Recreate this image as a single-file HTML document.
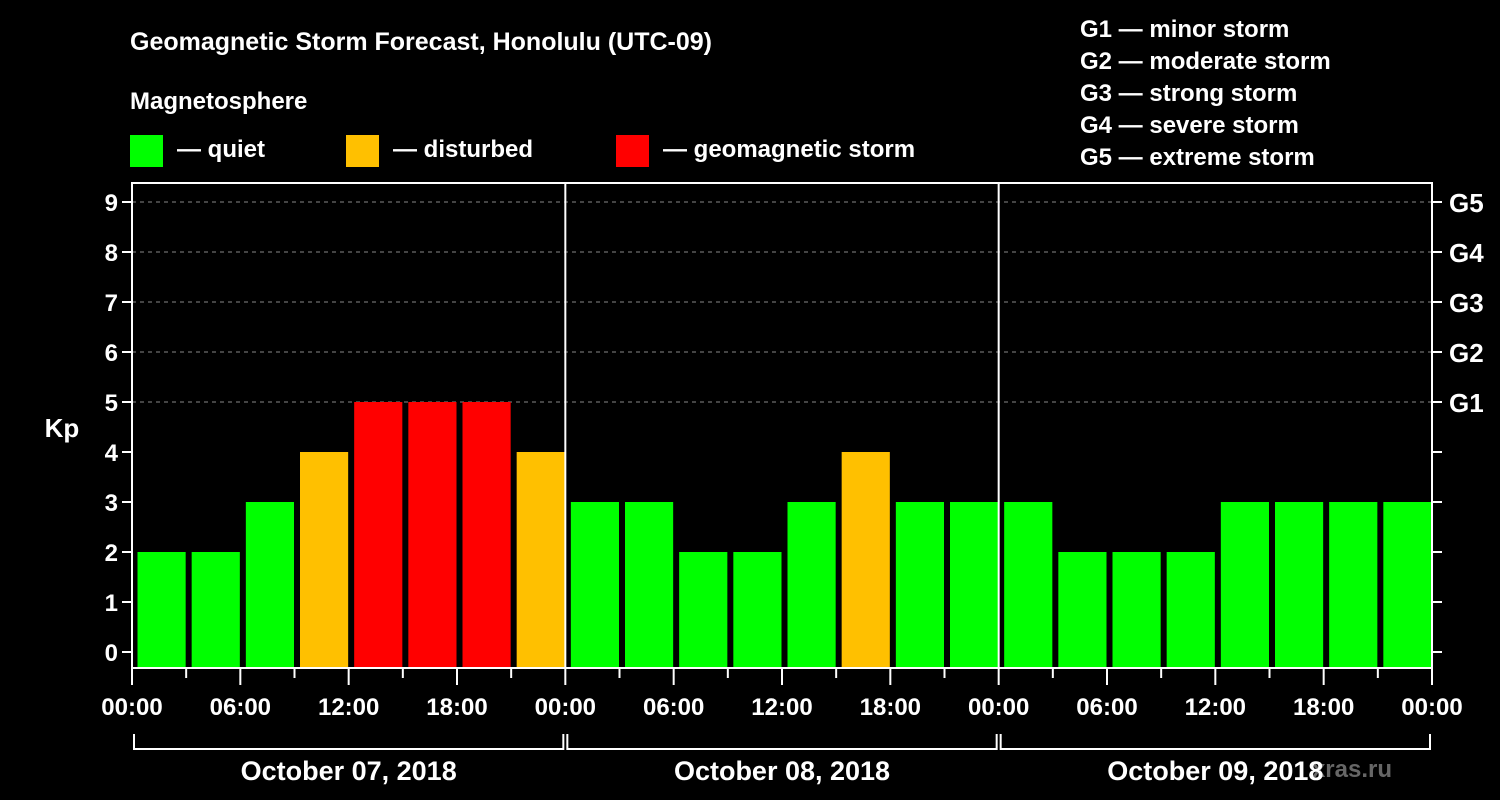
<!DOCTYPE html>
<html><head><meta charset="utf-8"><style>
html,body{margin:0;padding:0;background:#000;}
svg{display:block;font-family:"Liberation Sans",Arial,sans-serif;font-weight:bold;}
</style></head><body>
<svg id="chart" width="1500" height="800" viewBox="0 0 1500 800">
<rect x="0" y="0" width="1500" height="800" fill="#000"/>
<text x="130" y="50" fill="#fff" font-size="25">Geomagnetic Storm Forecast, Honolulu (UTC-09)</text>
<text x="130" y="109" fill="#fff" font-size="24">Magnetosphere</text>
<g><rect x="130" y="135" width="33" height="32" fill="#00ff00"/><text x="177" y="157" fill="#fff" font-size="24">— quiet</text></g>
<g><rect x="346" y="135" width="33" height="32" fill="#ffc000"/><text x="393" y="157" fill="#fff" font-size="24">— disturbed</text></g>
<g><rect x="616" y="135" width="33" height="32" fill="#ff0000"/><text x="663" y="157" fill="#fff" font-size="24">— geomagnetic storm</text></g>
<g fill="#fff" font-size="24">
<text x="1080" y="37">G1 — minor storm</text>
<text x="1080" y="69">G2 — moderate storm</text>
<text x="1080" y="101">G3 — strong storm</text>
<text x="1080" y="133">G4 — severe storm</text>
<text x="1080" y="165">G5 — extreme storm</text>
</g>
<text x="62" y="437" fill="#fff" font-size="26" text-anchor="middle">Kp</text>
<text x="1392" y="777" fill="#666" font-size="24" text-anchor="end">xras.ru</text>
<g id="plot"></g>
</svg>
<script>
const kpValues=[2,2,3,4,5,5,5,4, 3,3,2,2,3,4,3,3, 3,2,2,2,3,3,3,3];
const dayLabels=["October 07, 2018","October 08, 2018","October 09, 2018"];
const hourLabels=["00:00","06:00","12:00","18:00"];
const kpTicks=[0,1,2,3,4,5,6,7,8,9];
const gLabels=["G1","G2","G3","G4","G5"];

const NS="http://www.w3.org/2000/svg";
const g=document.getElementById('plot');
const L=132,R=1432,T=183,B=668;
const dayW=(R-L)/dayLabels.length;
const xH=h=>L+h*dayW/24;
const yK=k=>652-k*50;
function mk(tag,attrs,parent){const e=document.createElementNS(NS,tag);for(const k in attrs)e.setAttribute(k,attrs[k]);(parent||g).appendChild(e);return e;}
function color(v){return v>=5?'#ff0000':(v>=4?'#ffc000':'#00ff00');}

// grid lines
kpTicks.forEach(k=>{
  if(k>=5){const l=mk('line',{x1:L,x2:R,y1:yK(k),y2:yK(k),stroke:'#888','stroke-dasharray':'4,4','stroke-width':1});
  
  }
  const t=mk('line',{x1:L-10,x2:L,y1:yK(k),y2:yK(k),stroke:'#fff','stroke-width':2});
  
  
  const t2=mk('line',{x1:R,x2:R+10,y1:yK(k),y2:yK(k),stroke:'#fff','stroke-width':2});
  
  
  const tx=mk('text',{x:L-14,y:yK(k)+9,fill:'#fff','font-size':24,'text-anchor':'end'});
  tx.textContent=k;
  
  
});
gLabels.forEach((s,i)=>{
  const tx=mk('text',{x:R+17,y:yK(5+i)+10,fill:'#fff','font-size':26});
  tx.textContent=s;
  
  
});
// bars
const slot=dayW/8;
kpValues.forEach((v,i)=>{
  const x=xH(i*3)+5.5;
  const r=mk('rect',{x:x,y:yK(v),width:slot-6,height:B-yK(v),fill:color(v)});
  
  
});
// frame
const f=mk('rect',{x:L,y:T,width:R-L,height:B-T,fill:'none',stroke:'#fff','stroke-width':2});


for(let d=1;d<dayLabels.length;d++){
  const l=mk('line',{x1:xH(d*24),x2:xH(d*24),y1:T,y2:B,stroke:'#fff','stroke-width':2});
  
  
}
// x ticks
for(let h=0;h<=24*dayLabels.length;h+=3){
  const major=h%6===0;
  const l=mk('line',{x1:xH(h),x2:xH(h),y1:B,y2:B+(major?17:10),stroke:'#fff','stroke-width':2});
  
  
  if(major){
    const tx=mk('text',{x:xH(h),y:715,fill:'#fff','font-size':24,'text-anchor':'middle'});
    tx.textContent=hourLabels[(h/6)%4];
    
    
  }
}
// day brackets
dayLabels.forEach((s,d)=>{
  const x0=xH(d*24)+2,x1=xH((d+1)*24)-2;
  const p=mk('path',{d:`M${x0},734 V749 H${x1} V734`,fill:'none',stroke:'#fff','stroke-width':2});
  
  
  const tx=mk('text',{x:(x0+x1)/2,y:780,fill:'#fff','font-size':27,'text-anchor':'middle'});
  tx.textContent=s;
  
  
});
</script>
</body></html>
